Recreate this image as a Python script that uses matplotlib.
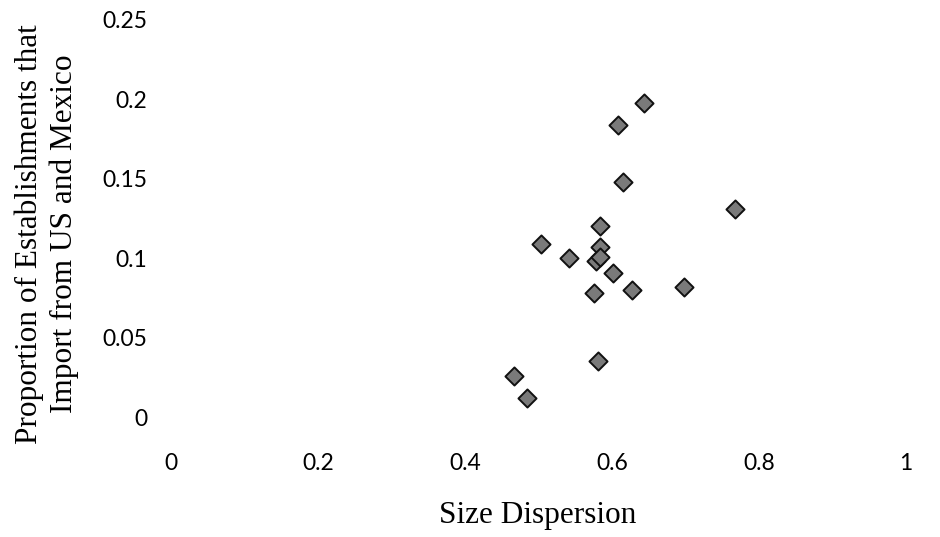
import matplotlib
matplotlib.use("Agg")
import matplotlib.pyplot as plt

size_dispersion = [0.643, 0.608, 0.615, 0.767, 0.583, 0.504, 0.542, 0.584,
                   0.578, 0.583, 0.601, 0.575, 0.627, 0.698, 0.581, 0.467, 0.485]
import_share = [0.198, 0.184, 0.148, 0.131, 0.120, 0.109, 0.100, 0.107,
                0.098, 0.101, 0.0905, 0.078, 0.080, 0.082, 0.035, 0.026, 0.012]
x_ticks = [0, 0.2, 0.4, 0.6, 0.8, 1]
x_tick_labels = ["0", "0.2", "0.4", "0.6", "0.8", "1"]
y_ticks = [0, 0.05, 0.1, 0.15, 0.2, 0.25]
y_tick_labels = ["0", "0.05", "0.1", "0.15", "0.2", "0.25"]

W, H = 940, 537
fig = plt.figure(figsize=(W / 100, H / 100), dpi=100)
ax = fig.add_axes([171 / W, (H - 417) / H, 735 / W, 397 / H])

ax.scatter(size_dispersion, import_share, marker="D", s=85,
           facecolor="#7a7a7a", edgecolor="#111111", linewidths=1.4, zorder=3)

ax.set_xlim(0, 1)
ax.set_ylim(0, 0.25)
ax.set_xticks(x_ticks)
ax.set_xticklabels(x_tick_labels)
ax.set_yticks(y_ticks)
ax.set_yticklabels(y_tick_labels)
for s in ax.spines.values():
    s.set_visible(False)
ax.tick_params(axis="both", length=0, labelsize=16.5)
ax.tick_params(axis="x", pad=26)
ax.tick_params(axis="y", pad=17)
for lab in ax.get_xticklabels() + ax.get_yticklabels():
    lab.set_family("Lato")
    lab.set_color("black")

fig.text(538 / W, (H - 515) / H, "Size Dispersion", family="Liberation Serif",
         fontsize=22.5, ha="center", va="center")
fig.text(47 / W, (H - 234) / H,
         "Proportion of Establishments that\nImport from US and Mexico",
         family="Liberation Serif", fontsize=22.5, rotation=90,
         ha="center", va="center", multialignment="center", linespacing=1.25)

fig.savefig("out.png", dpi=100)
